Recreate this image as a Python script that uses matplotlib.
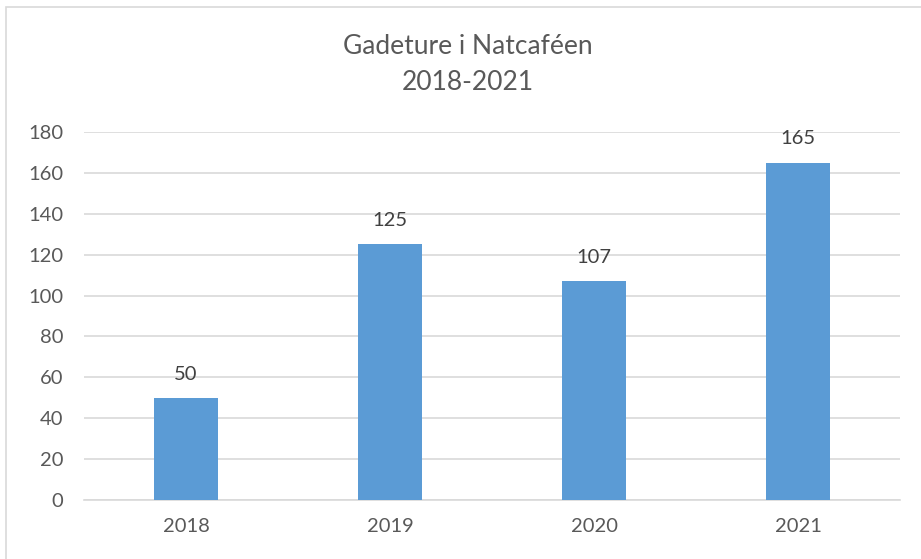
import matplotlib
matplotlib.use('Agg')
import matplotlib.pyplot as plt
from matplotlib.patches import Rectangle

years = ["2018", "2019", "2020", "2021"]
sales = [50, 125, 107, 165]
yticks = [0, 20, 40, 60, 80, 100, 120, 140, 160, 180]

plt.rcParams['font.family'] = ['Lato', 'DejaVu Sans']
txt = '#595959'

fig = plt.figure(figsize=(9.21, 5.59), dpi=100)
# light frame round the chart area (cut off at right/bottom like the reference)
fig.patches.append(Rectangle((6 / 921, -0.05), 1.0, 1 - 7 / 559 + 0.05,
                             transform=fig.transFigure, fill=False,
                             edgecolor='#D9D9D9', linewidth=1.2))

ax = fig.add_axes([84 / 921, 59 / 559, 816 / 921, 368 / 559])
x = range(len(years))
ax.bar(x, sales, width=0.315, color='#5B9BD5', zorder=3)
for xi, v in zip(x, sales):
    ax.annotate(str(v), (xi, v), xytext=(0, 11), textcoords='offset points',
                ha='center', va='bottom', fontsize=14.5, color='#404040')

ax.set_xlim(-0.5, 3.5)
ax.set_ylim(0, 180)
ax.set_yticks(yticks)
ax.set_xticks(list(x))
ax.set_xticklabels(years)
ax.grid(axis='y', color='#D9D9D9', linewidth=1.2, zorder=0)
for s in ['top', 'right', 'left']:
    ax.spines[s].set_visible(False)
ax.spines['bottom'].set_color('#D9D9D9')
ax.spines['bottom'].set_linewidth(1.2)
ax.tick_params(axis='both', length=0, labelsize=14.5, colors=txt)
ax.tick_params(axis='y', pad=15)
ax.tick_params(axis='x', pad=13)

fig.text(0.508, 1 - 47 / 559, "Gadeture i Natcaféen", ha='center', va='center',
         fontsize=19, color=txt)
fig.text(0.508, 1 - 83 / 559, "2018-2021", ha='center', va='center',
         fontsize=19, color=txt)

plt.savefig("out.png", dpi=100)
